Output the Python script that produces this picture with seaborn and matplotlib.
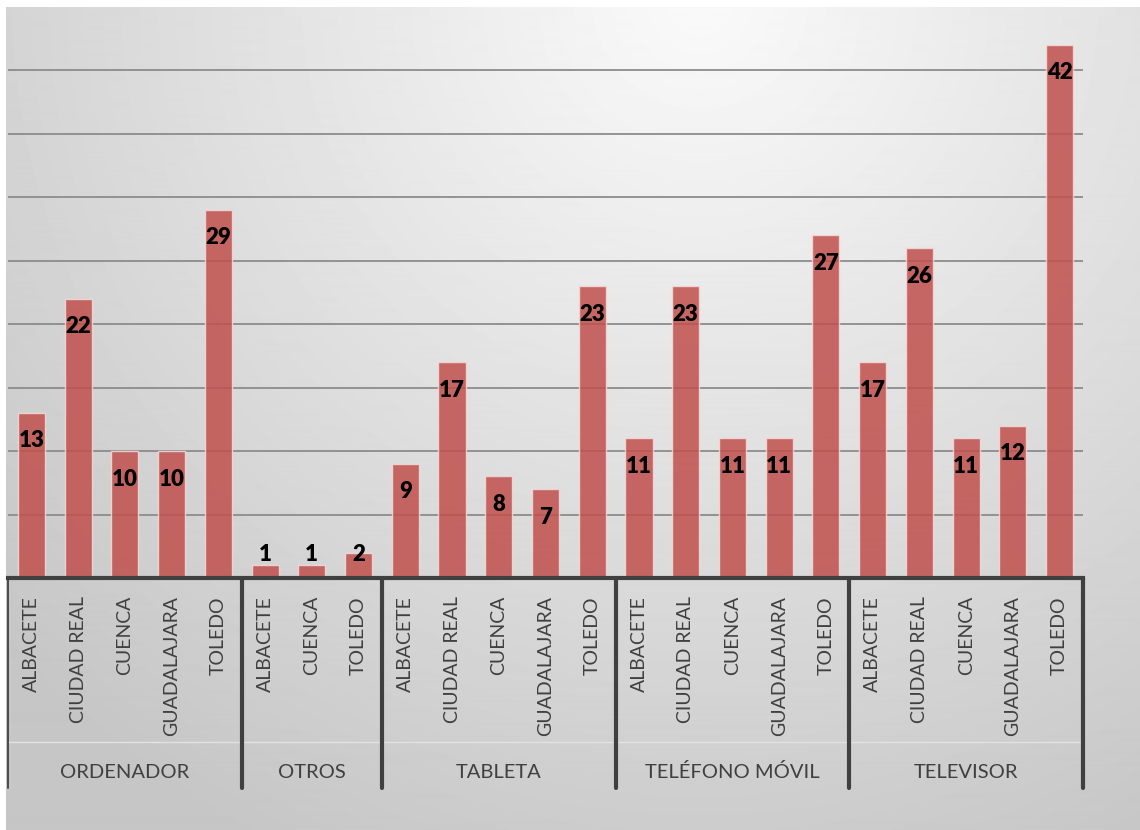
import numpy as np
import pandas as pd
import matplotlib
matplotlib.use('Agg')
import matplotlib.pyplot as plt
import seaborn as sns

# Data
groups = ['ORDENADOR', 'OTROS', 'TABLETA', 'TELÉFONO MÓVIL', 'TELEVISOR']
ordenador_cities = ['ALBACETE', 'CIUDAD REAL', 'CUENCA', 'GUADALAJARA', 'TOLEDO']
ordenador_values = [13, 22, 10, 10, 29]
otros_cities = ['ALBACETE', 'CUENCA', 'TOLEDO']
otros_values = [1, 1, 2]
tableta_cities = ['ALBACETE', 'CIUDAD REAL', 'CUENCA', 'GUADALAJARA', 'TOLEDO']
tableta_values = [9, 17, 8, 7, 23]
movil_cities = ['ALBACETE', 'CIUDAD REAL', 'CUENCA', 'GUADALAJARA', 'TOLEDO']
movil_values = [11, 23, 11, 11, 27]
televisor_cities = ['ALBACETE', 'CIUDAD REAL', 'CUENCA', 'GUADALAJARA', 'TOLEDO']
televisor_values = [17, 26, 11, 12, 42]

city_lists = [ordenador_cities, otros_cities, tableta_cities, movil_cities, televisor_cities]
value_lists = [ordenador_values, otros_values, tableta_values, movil_values, televisor_values]

rows = []
for g, cities, vals in zip(groups, city_lists, value_lists):
    for c, v in zip(cities, vals):
        rows.append({'group': g, 'city': c, 'key': g + '|' + c, 'value': v})
df = pd.DataFrame(rows)

sns.set_style('white')
plt.rcParams['font.family'] = ['Lato', 'DejaVu Sans']

W, H = 1140, 830
fig = plt.figure(figsize=(W / 100, H / 100), dpi=100)

# Gradient chart background
bg = fig.add_axes([6 / W, 0, (W - 6) / W, (H - 7) / H])
yy, xx = np.mgrid[7:H, 6:W]
dist = np.sqrt((xx - 700) ** 2 + (yy - 0) ** 2)
shade = np.clip(250 - 0.055 * dist, 198, 252) / 255
bg.imshow(shade, cmap='gray', vmin=0, vmax=1, aspect='auto',
          extent=(0, 1, 0, 1), interpolation='bilinear')
bg.axis('off')

# Plot area
ax = fig.add_axes([8 / W, (H - 578) / H, 1075 / W, 571 / H])
ax.patch.set_alpha(0)

sns.barplot(data=df, x='key', y='value', color='#C0504D', saturation=1,
            alpha=0.85, width=0.58, edgecolor='#F2DCDB', linewidth=1, ax=ax)

n = len(df)
ax.set_xlim(-0.5, n - 0.5)
ax.set_ylim(0, 45)
ax.set_yticks(range(5, 45, 5))
ax.set_axisbelow(True)
ax.yaxis.grid(True, color='#8c8c8c', linewidth=1.3)
ax.xaxis.grid(False)
ax.tick_params(axis='y', left=False, labelleft=False)

ax.set_xticks(range(n))
ax.set_xticklabels(df['city'], rotation=90, fontsize=14, color='#404040')
ax.tick_params(axis='x', length=0, pad=13)
ax.set_xlabel('')
ax.set_ylabel('')

for s in ['top', 'left', 'right']:
    ax.spines[s].set_visible(False)
ax.spines['bottom'].set_linewidth(3)
ax.spines['bottom'].set_color('#404040')

# Value labels (inside end)
for i, v in enumerate(df['value']):
    ax.text(i, max(v - 2.2, 1.85), f'{v}', ha='center', va='center',
            fontsize=16, fontweight='heavy', color='black')

# Category group separators and labels
trans = ax.get_xaxis_transform()
y_sep = (578 - 788) / 571
y_mid = (578 - 742) / 571
y_grp = (578 - 772) / 571
ax.plot([-0.5, n - 0.5], [y_mid, y_mid], transform=trans, color='#e2e2e2',
        linewidth=1, clip_on=False)
ax.plot([-0.5, -0.5], [0, y_sep], transform=trans, color='#404040',
        linewidth=1.3, clip_on=False)
start = 0
for g, vals in zip(groups, value_lists):
    end = start + len(vals)
    ax.plot([end - 0.5, end - 0.5], [0, y_sep], transform=trans,
            color='#404040', linewidth=3, clip_on=False)
    ax.text((start + end - 1) / 2, y_grp, g, transform=trans, ha='center',
            va='center', fontsize=14.5, color='#404040')
    start = end

fig.savefig('out.png', dpi=100, facecolor='white')
